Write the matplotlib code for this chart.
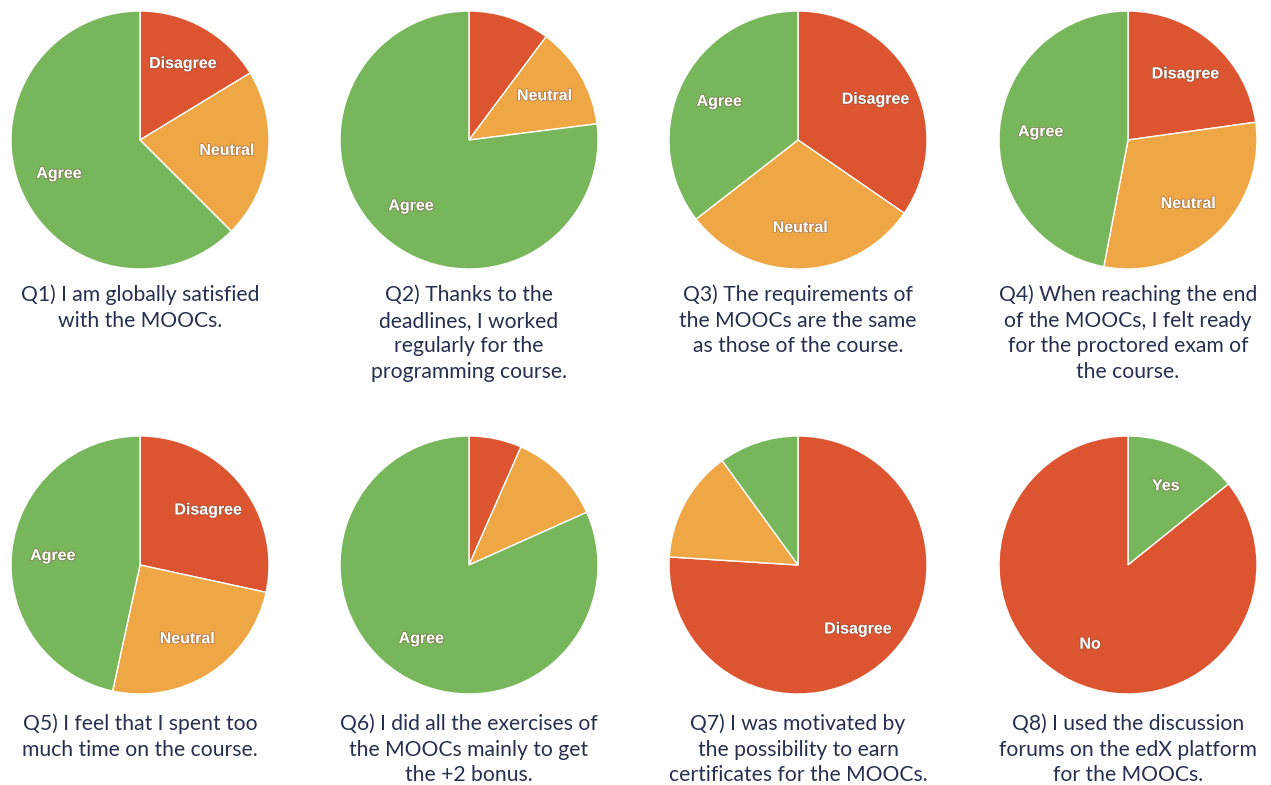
import matplotlib.pyplot as plt
import matplotlib.patheffects as pe

RED = '#dc5530'
ORANGE = '#efa644'
GREEN = '#77b65b'
TEXT_COLOR = '#26304e'

# share of answers, clockwise from 12 o'clock
q1_values = [16.3, 21.2, 62.5]
q2_values = [10.2, 12.8, 77.0]
q3_values = [34.6, 29.9, 35.5]
q4_values = [22.8, 30.2, 47.0]
q5_values = [28.4, 25.0, 46.6]
q6_values = [6.6, 11.7, 81.7]
q7_values = [76.0, 14.0, 10.0]
q8_values = [14.2, 85.8]

q1_labels = ['Disagree', 'Neutral', 'Agree']
q2_labels = ['', 'Neutral', 'Agree']
q3_labels = ['Disagree', 'Neutral', 'Agree']
q4_labels = ['Disagree', 'Neutral', 'Agree']
q5_labels = ['Disagree', 'Neutral', 'Agree']
q6_labels = ['', '', 'Agree']
q7_labels = ['Disagree', '', '']
q8_labels = ['Yes', 'No']

likert_colors = [RED, ORANGE, GREEN]
yes_no_colors = [GREEN, RED]

captions = [
    ['Q1) I am globally satisfied', 'with the MOOCs.'],
    ['Q2) Thanks to the', 'deadlines, I worked', 'regularly for the', 'programming course.'],
    ['Q3) The requirements of', 'the MOOCs are the same', 'as those of the course.'],
    ['Q4) When reaching the end', 'of the MOOCs, I felt ready', 'for the proctored exam of', 'the course.'],
    ['Q5) I feel that I spent too', 'much time on the course.'],
    ['Q6) I did all the exercises of', 'the MOOCs mainly to get', 'the +2 bonus.'],
    ['Q7) I was motivated by', 'the possibility to earn', 'certificates for the MOOCs.'],
    ['Q8) I used the discussion', 'forums on the edX platform', 'for the MOOCs.'],
]

charts = [
    (q1_values, q1_labels, likert_colors),
    (q2_values, q2_labels, likert_colors),
    (q3_values, q3_labels, likert_colors),
    (q4_values, q4_labels, likert_colors),
    (q5_values, q5_labels, likert_colors),
    (q6_values, q6_labels, likert_colors),
    (q7_values, q7_labels, likert_colors),
    (q8_values, q8_labels, yes_no_colors),
]

W, H = 1271, 785
col_x = [140, 469, 798, 1128]
row_y = [140, 565]
radius = 129

fig = plt.figure(figsize=(W / 100, H / 100), dpi=100)

for i, (values, labels, colors) in enumerate(charts):
    cx = col_x[i % 4]
    cy = row_y[i // 4]
    ax = fig.add_axes([(cx - radius) / W, 1 - (cy + radius) / H, 2 * radius / W, 2 * radius / H])
    wedges, texts = ax.pie(values, labels=labels, colors=colors, startangle=90, counterclock=False,
                           labeldistance=0.68, radius=1,
                           wedgeprops=dict(edgecolor='white', linewidth=1),
                           textprops=dict(color='white', fontsize=11.5, fontweight='bold',
                                          family='Liberation Sans', ha='center', va='center'))
    for t in texts:
        t.set_horizontalalignment('center')
        t.set_path_effects([pe.withStroke(linewidth=1.2, foreground='#7a5040', alpha=0.5)])
    ax.set_xlim(-1, 1)
    ax.set_ylim(-1, 1)
    ax.set_aspect('equal')
    ax.axis('off')

    first_y = 295 if i < 4 else 724
    for j, line in enumerate(captions[i]):
        fig.text(cx / W, 1 - (first_y + 25.7 * j) / H, line, ha='center', va='center',
                 fontsize=15.2, family='Lato', color=TEXT_COLOR)

fig.savefig('out.png', dpi=100, facecolor='white')
